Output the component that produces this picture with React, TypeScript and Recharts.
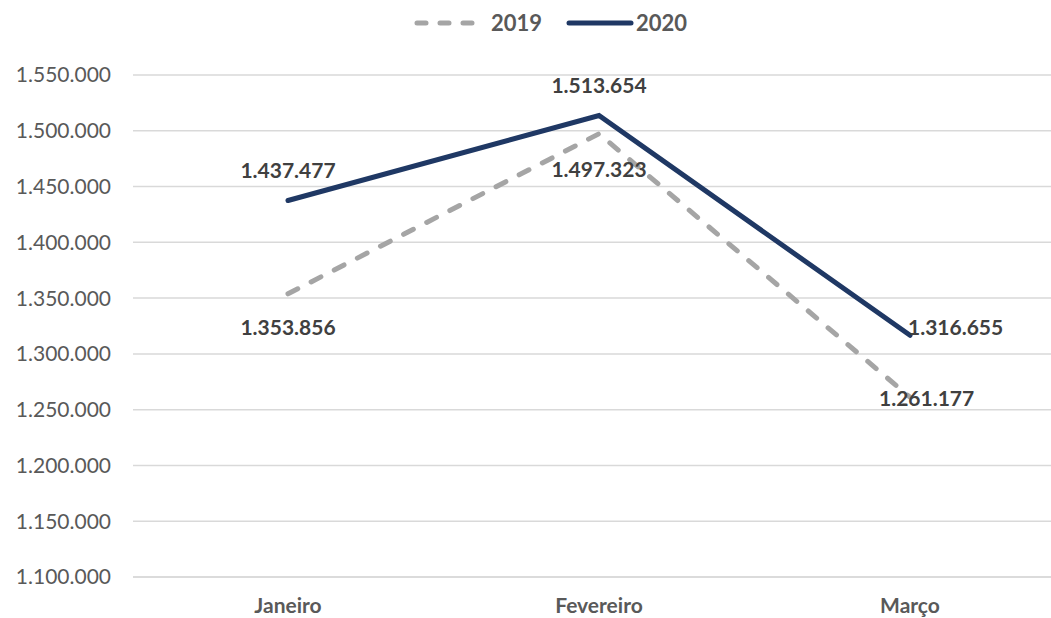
import React from 'react';
import { CartesianGrid, LabelList, Line, LineChart, XAxis, YAxis } from 'recharts';

const MONTHS = ['Janeiro', 'Fevereiro', 'Março'];
const SALES_2019 = [1353856, 1497323, 1261177];
const SALES_2020 = [1437477, 1513654, 1316655];
const Y_TICKS = [1100000, 1150000, 1200000, 1250000, 1300000, 1350000, 1400000, 1450000, 1500000, 1550000];

const COLOR_2019 = '#A5A5A5';
const COLOR_2020 = '#1F3864';
const FONT = 'Lato, "Noto Sans", sans-serif';

// where each value label sits relative to its point (dx, dy, anchor)
const LABEL_POS_2019 = [
  { dx: 0, dy: 33, anchor: 'middle' },
  { dx: 0, dy: 35, anchor: 'middle' },
  { dx: -31, dy: 0, anchor: 'start' },
];
const LABEL_POS_2020 = [
  { dx: 0, dy: -31, anchor: 'middle' },
  { dx: 0, dy: -31, anchor: 'middle' },
  { dx: -2, dy: -9, anchor: 'start' },
];

const chartData = MONTHS.map((m, i) => ({ month: m, y2019: SALES_2019[i], y2020: SALES_2020[i] }));

const fmt = (v: number) => v.toLocaleString('de-DE');

const makeLabel = (pos: { dx: number; dy: number; anchor: string }[]) => (props: any) => {
  const { x, y, value, index } = props;
  const p = pos[index];
  return (
    <text
      x={x + p.dx}
      y={y + p.dy}
      textAnchor={p.anchor}
      dominantBaseline='central'
      fill='#404040'
      fontWeight={700}
      fontSize={21}
      fontFamily={FONT}
    >
      {fmt(value)}
    </text>
  );
};

const LegendBar = () => (
  <div
    style={{
      position: 'absolute',
      top: 9,
      left: 0,
      width: 1051,
      paddingLeft: 50,
      boxSizing: 'border-box',
      display: 'flex',
      justifyContent: 'center',
      alignItems: 'center',
      fontFamily: FONT,
      fontWeight: 700,
      fontSize: 22,
      color: '#595959',
    }}
  >
    <svg width={68} height={10}>
      <line x1={3} y1={5} x2={65} y2={5} stroke={COLOR_2019} strokeWidth={5} strokeDasharray='9 14' strokeLinecap='round' />
    </svg>
    <span style={{ marginLeft: 9, marginRight: 24 }}>2019</span>
    <svg width={68} height={10}>
      <line x1={3} y1={5} x2={65} y2={5} stroke={COLOR_2020} strokeWidth={5} strokeLinecap='round' />
    </svg>
    <span style={{ marginLeft: 2 }}>2020</span>
  </div>
);

const App: React.FC = () => {
  return (
    <div style={{ position: 'absolute', top: 0, left: 0, width: 1051, height: 618, overflow: 'hidden', background: '#fff' }}>
      <LegendBar />
      <LineChart width={1080} height={618} data={chartData} margin={{ top: 75, right: 15, bottom: 11, left: 0 }}>
        <CartesianGrid vertical={false} stroke='#D9D9D9' strokeWidth={1.5} />
        <XAxis
          dataKey='month'
          height={30}
          axisLine={{ stroke: '#D9D9D9', strokeWidth: 1.5 }}
          tickLine={false}
          padding={{ left: 155, right: 155 }}
          tickMargin={15}
          tick={{ fill: '#595959', fontSize: 21, fontWeight: 700, fontFamily: FONT }}
        />
        <YAxis
          width={133}
          domain={[1100000, 1550000]}
          ticks={Y_TICKS}
          interval={0}
          axisLine={false}
          tickLine={false}
          tickMargin={16}
          tickFormatter={fmt}
          tick={{ fill: '#595959', fontSize: 21, fontFamily: FONT }}
        />
        <Line
          dataKey='y2019'
          stroke={COLOR_2019}
          strokeWidth={5}
          strokeDasharray='11 15'
          strokeLinecap='round'
          dot={false}
          isAnimationActive={false}
        >
          <LabelList dataKey='y2019' content={makeLabel(LABEL_POS_2019)} />
        </Line>
        <Line
          dataKey='y2020'
          stroke={COLOR_2020}
          strokeWidth={5}
          strokeLinecap='round'
          dot={false}
          isAnimationActive={false}
        >
          <LabelList dataKey='y2020' content={makeLabel(LABEL_POS_2020)} />
        </Line>
      </LineChart>
    </div>
  );
};

export default App;
